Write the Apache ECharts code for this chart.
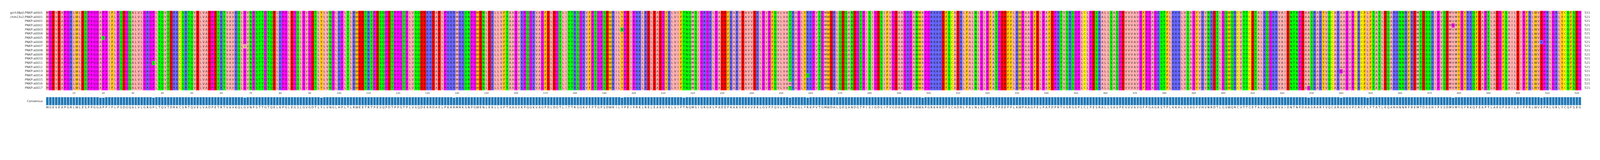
<!DOCTYPE html>
<html><head><meta charset="utf-8">
<script src="https://cdn.jsdelivr.net/npm/echarts@6/dist/echarts.min.js"></script>
<style>html,body{margin:0;padding:0;background:#fff;overflow:hidden}#c{width:100vw;height:100px}</style>
</head><body><div id="c"></div>
<script>
const referenceSeq = "MGEVEAPGRLWLESPPGGAPPIFLPSDGQALVLGRGPLTQVTDRKCSRTQVELVADPETRTVAVKQLGVNPSTTGTQELKPGLEGSLGVGDTLYLVNGLHPLTLRWEETRTPESQPDTPPGTPLVSQDEKRDAELPKKRMRKSNPGWENLEKLLVFTAAGVKPQGKVAGFDLDGTLITTRSGKVFPTGPSDWRILYPEIPRKLRELEAEGYKLVIFTNQMSIGRGKLPAEEFKAKVEAVVEKLGVPFQVLVATHAGLYRKPVTGMWDHLQEQANDGTPISIGDSIFVGDAAGRPANWAPGRKKKDFSCADRLFALNLGLPFATPEEFFLKWPAAGFELPAFDPRTVSRSGPLCLPESRALLSASPEVVVAVGFPGAGKSTFLKKHLVSAGYVHVNRDTLGSWQRCVTTCETALKQGKRVAIDNTNPDAASRARYVQCARAAGVPCRCFLFTATLEQARHNNRFREMTDSSHIPVSDMVMYGYRKQFEAPTLAEGFSAILEIPFRLWVEPRLGRLYCQFSEG";
const sequenceNames = ["grch38p0:PNKP:a0001","chm13v2:PNKP:a0001","PNKP:a0001","PNKP:a0002","PNKP:a0003","PNKP:a0004","PNKP:a0005","PNKP:a0006","PNKP:a0007","PNKP:a0008","PNKP:a0009","PNKP:a0010","PNKP:a0011","PNKP:a0012","PNKP:a0013","PNKP:a0014","PNKP:a0015","PNKP:a0016","PNKP:a0017"];
// [row, context motif, offset in motif, substituted residue]
const variants = [
 [5,"GGAPPIF",2,"V"],[6,"GGAPPIF",3,"S"],[12,"GRGPLT",3,"S"],[8,"KQLGVN",3,"V"],
 [10,"PKKRMRK",3,"H"],[15,"DTLYLVN",3,"F"],[4,"WRILYPE",4,"N"],[9,"VIFTNQM",3,"S"],
 [15,"GLYRKPV",3,"Q"],[17,"LVATHAG",3,"M"],[13,"ANWAPGR",3,"V"],[18,"NPDAASR",4,"G"],
 [3,"SDMVMYG",3,"G"],[11,"CRCFLFT",4,"I"],[14,"RAAGVP",1,"G"],[7,"LWVEPRL",3,"K"]
];
const colorGroups = [["AVILM","#ffafaf"],["FWY","#ffc800"],["KRH","#6464ff"],["DE","#ff0000"],["STNQ","#00ff00"],["GP","#ff00ff"],["C","#ffff00"]];

const L = referenceSeq.length;
const rows = sequenceNames.map(()=>referenceSeq.split(''));
variants.forEach(([r,m,o,aa])=>{const p=referenceSeq.indexOf(m); if(p>=0) rows[r][p+o]=aa;});
const colorOf = {}; colorGroups.forEach(([s,c])=>s.split('').forEach(ch=>colorOf[ch]=c));
const cells = [];
rows.forEach((r,ri)=>r.forEach((aa,ci)=>cells.push([ci,ri,aa])));
const consensus = [], conservation = [];
for(let i=0;i<L;i++){const cnt={};rows.forEach(r=>cnt[r[i]]=(cnt[r[i]]||0)+1);let best=null,bc=0;for(const k in cnt){if(cnt[k]>bc){bc=cnt[k];best=k;}}consensus.push(best);conservation.push(bc/rows.length);}
const positions = Array.from({length:L},(_,i)=>String(i+1));

const el = document.getElementById('c');
const k = (el.clientWidth || window.innerWidth) / 5473;
el.style.height = (409*k) + 'px';
const chart = echarts.init(el,null,{renderer:'canvas'});
const FONT = 'DejaVu Sans';
const fs = (v)=>v*k;
chart.setOption({
 animation:false,
 grid:[{left:157*k,right:64*k,top:37*k,height:271*k},{left:157*k,right:64*k,top:331*k,height:29*k}],
 xAxis:[
  {gridIndex:0,type:'category',data:positions,position:'bottom',boundaryGap:true,
   axisLine:{show:false},
   axisTick:{alignWithLabel:true,interval:(i)=>(i+1)%10===0,length:4*k,lineStyle:{color:'#333',width:k}},
   axisLabel:{interval:(i)=>(i+1)%10===0,fontFamily:FONT,fontSize:fs(8),color:'#333',margin:6*k},splitLine:{show:false}},
  {gridIndex:1,type:'category',data:consensus,boundaryGap:true,axisLine:{show:false},axisTick:{show:false},
   axisLabel:{interval:0,fontFamily:FONT,fontSize:fs(10),color:'#222',margin:3*k}}
 ],
 yAxis:[
  {gridIndex:0,type:'category',data:sequenceNames,inverse:true,axisLine:{show:false},axisTick:{show:false},
   axisLabel:{fontFamily:FONT,fontSize:fs(10),color:'#333',margin:11*k}},
  {gridIndex:0,type:'category',data:sequenceNames.map(()=>String(L)),inverse:true,position:'right',axisLine:{show:false},axisTick:{show:false},
   axisLabel:{fontFamily:FONT,fontSize:fs(10),color:'#333',margin:11*k}},
  {gridIndex:1,type:'value',min:0,max:1,axisLine:{show:false},axisTick:{show:false},splitLine:{show:false},
   axisLabel:{show:false},name:'Consensus',nameLocation:'middle',nameRotate:0,nameGap:11*k,
   nameTextStyle:{fontFamily:FONT,fontSize:fs(10),color:'#333',align:'right',verticalAlign:'middle'}}
 ],
 series:[
  {type:'custom',xAxisIndex:0,yAxisIndex:0,data:cells,progressive:0,
   renderItem:(params,api)=>{
     const x=api.value(0),y=api.value(1),aa=cells[params.dataIndex][2];
     const c=api.coord([x,y]),s=api.size([1,1]);
     return {type:'group',children:[
       {type:'rect',shape:{x:c[0]-s[0]/2,y:c[1]-s[1]/2,width:s[0]+0.3,height:s[1]+0.3},style:{fill:colorOf[aa]||'#fff'}},
       {type:'text',style:{x:c[0],y:c[1]+0.4*k,text:aa,fill:'#222',font:fs(10)+'px "DejaVu Sans"',textAlign:'center',textVerticalAlign:'middle'}}
     ]};
   }},
  {type:'bar',xAxisIndex:1,yAxisIndex:2,data:conservation,barCategoryGap:'0%',
   itemStyle:{color:'#1f77b4',borderColor:'#d8e6f0',borderWidth:k}}
 ]
});
</script></body></html>
